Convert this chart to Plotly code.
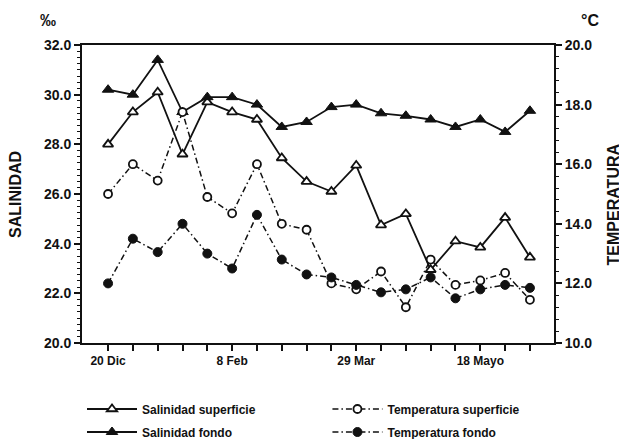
import plotly.graph_objects as go

# Sampling number (≈10-day intervals from 20 Dic)
muestreo = [1, 2, 3, 4, 5, 6, 7, 8, 9, 10, 11, 12, 13, 14, 15, 16, 17, 18]
tick_pos = [1, 6, 11, 16]
tick_labels = ["20 Dic", "8 Feb", "29 Mar", "18 Mayo"]

sal_superficie = [28.0, 29.3, 30.1, 27.6, 29.7, 29.3, 29.0, 27.45, 26.5, 26.1,
                  27.15, 24.75, 25.2, 22.95, 24.1, 23.85, 25.05, 23.45]
sal_fondo = [30.2, 30.0, 31.4, 29.3, 29.9, 29.9, 29.6, 28.7, 28.9, 29.5,
             29.6, 29.25, 29.15, 29.0, 28.7, 29.0, 28.5, 29.35]
temp_superficie = [15.0, 16.0, 15.45, 17.75, 14.9, 14.35, 16.0, 14.0, 13.8, 12.0,
                   11.8, 12.4, 11.2, 12.8, 11.95, 12.1, 12.35, 11.45]
temp_fondo = [12.0, 13.5, 13.05, 14.0, 13.0, 12.5, 14.3, 12.8, 12.3, 12.2,
              11.95, 11.7, 11.8, 12.2, 11.5, 11.8, 11.95, 11.85]

FONT = "Liberation Sans, Arial, Helvetica, sans-serif"
BLACK = "#111111"
DASH = "6px,3px,1.5px,3px"

fig = go.Figure()

fig.add_trace(go.Scatter(
    x=muestreo, y=sal_superficie, name="Salinidad superficie", mode="lines+markers",
    line=dict(color=BLACK, width=1.8),
    marker=dict(symbol="triangle-up", size=9, color="white", line=dict(color=BLACK, width=1.8)),
    legend="legend"))
fig.add_trace(go.Scatter(
    x=muestreo, y=sal_fondo, name="Salinidad fondo", mode="lines+markers",
    line=dict(color=BLACK, width=1.8),
    marker=dict(symbol="triangle-up", size=10, color=BLACK, line=dict(color=BLACK, width=1)),
    legend="legend2"))
fig.add_trace(go.Scatter(
    x=muestreo, y=temp_superficie, name="Temperatura superficie", mode="lines+markers",
    yaxis="y2",
    line=dict(color=BLACK, width=1.5, dash=DASH),
    marker=dict(symbol="circle", size=8, color="white", line=dict(color=BLACK, width=1.8)),
    legend="legend3"))
fig.add_trace(go.Scatter(
    x=muestreo, y=temp_fondo, name="Temperatura fondo", mode="lines+markers",
    yaxis="y2",
    line=dict(color=BLACK, width=1.5, dash=DASH),
    marker=dict(symbol="circle", size=9, color=BLACK, line=dict(color=BLACK, width=1)),
    legend="legend4"))

tickfont = dict(family=FONT, size=14, color=BLACK, weight="bold")
legfont = dict(family=FONT, size=12, color=BLACK, weight="bold")

def leg(x, y):
    return dict(x=x, y=y, xanchor="left", yanchor="middle", font=legfont,
                bgcolor="rgba(0,0,0,0)", itemwidth=50, tracegroupgap=0)

def note(text, x, y, size, angle=0):
    return dict(text=text, x=x, y=y, xref="paper", yref="paper", showarrow=False,
                xanchor="center", yanchor="middle", textangle=angle,
                font=dict(family=FONT, size=size, color=BLACK, weight="bold"))

fig.update_layout(
    template="none",
    width=619, height=431,
    margin=dict(l=74, r=73, t=37, b=96, autoexpand=False),
    paper_bgcolor="white", plot_bgcolor="white",
    showlegend=True,
    xaxis=dict(
        range=[-0.05, 18.97], showgrid=False, zeroline=False, automargin=False,
        showline=True, linecolor=BLACK, linewidth=2, mirror=True,
        tickmode="array", tickvals=muestreo,
        ticktext=[tick_labels[tick_pos.index(m)] if m in tick_pos else "" for m in muestreo],
        ticks="outside", ticklen=6, tickwidth=1.5, tickcolor=BLACK,
        tickfont=dict(family=FONT, size=12, color=BLACK, weight="bold"),
    ),
    yaxis=dict(
        range=[20, 32], dtick=2, tickformat=".1f", showgrid=False, zeroline=False,
        automargin=False,
        showline=True, linecolor=BLACK, linewidth=2,
        ticks="outside", ticklen=6, tickwidth=1.5, tickcolor=BLACK,
        minor=dict(dtick=0.25, ticks="outside", ticklen=3, tickcolor=BLACK, tickwidth=1.2),
        tickfont=tickfont,
    ),
    yaxis2=dict(
        range=[10, 20], dtick=2, tickformat=".1f", showgrid=False, zeroline=False,
        automargin=False,
        overlaying="y", side="right",
        showline=True, linecolor=BLACK, linewidth=2,
        ticks="outside", ticklen=6, tickwidth=1.5, tickcolor=BLACK,
        minor=dict(dtick=0.4, ticks="outside", ticklen=3, tickcolor=BLACK, tickwidth=1.2),
        tickfont=tickfont,
    ),
    legend=leg(0.0, -0.2215),
    legend2=leg(0.0, -0.2987),
    legend3=leg(0.52, -0.2215),
    legend4=leg(0.52, -0.2987),
    annotations=[
        note("‰", -0.072, 1.082, 16),
        note("°C", 1.076, 1.082, 16),
        note("SALINIDAD", -0.142, 0.5, 16, -90),
        note("TEMPERATURA", 1.125, 0.465, 16, -90),
    ],
)

fig.write_html("out.html")
